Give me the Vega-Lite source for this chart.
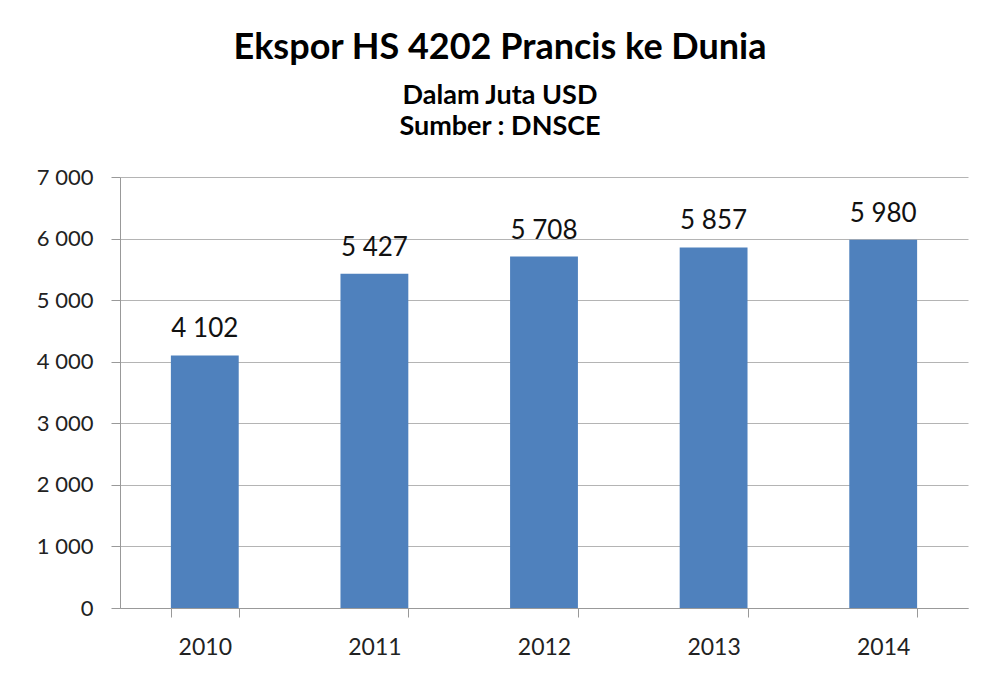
{
  "$schema": "https://vega.github.io/schema/vega-lite/v6.json",
  "width": 848,
  "height": 431,
  "autosize": "none",
  "padding": {"left": 120, "top": 177, "right": 13, "bottom": 77},
  "background": "white",
  "title": {
    "text": "Ekspor HS 4202 Prancis ke Dunia",
    "subtitle": ["Dalam Juta USD", "Sumber : DNSCE"],
    "font": "Lato",
    "fontSize": 36,
    "fontWeight": "bold",
    "color": "black",
    "subtitleFont": "Lato",
    "subtitleFontSize": 27,
    "subtitleFontWeight": "bold",
    "subtitleColor": "black",
    "subtitlePadding": 16,
    "subtitleLineHeight": 31,
    "anchor": "middle",
    "dx": -44,
    "offset": 25
  },
  "data": {
    "values": [
      {"year": "2010", "value": 4102},
      {"year": "2011", "value": 5427},
      {"year": "2012", "value": 5708},
      {"year": "2013", "value": 5857},
      {"year": "2014", "value": 5980}
    ]
  },
  "encoding": {
    "x": {
      "field": "year",
      "type": "ordinal",
      "scale": {"paddingInner": 0.6, "paddingOuter": 0.3},
      "axis": {
        "title": null,
        "labelAngle": 0,
        "labelFont": "Lato",
        "labelFontSize": 23,
        "labelColor": "#222",
        "labelPadding": 19,
        "domainColor": "#999",
        "tickColor": "#999",
        "tickSize": 9,
        "tickBand": "extent",
        "grid": false
      }
    },
    "y": {
      "field": "value",
      "type": "quantitative",
      "scale": {"domain": [0, 7000], "nice": false},
      "axis": {
        "title": null,
        "values": [0, 1000, 2000, 3000, 4000, 5000, 6000, 7000],
        "labelExpr": "replace(format(datum.value, ','), ',', ' ')",
        "labelFont": "Lato",
        "labelFontSize": 22,
        "labelColor": "#222",
        "labelPadding": 18,
        "domainColor": "#999",
        "tickColor": "#999",
        "tickSize": 9,
        "gridColor": "#b4b4b4",
        "gridWidth": 1
      }
    }
  },
  "layer": [
    {"mark": {"type": "bar", "color": "#4f81bd"}},
    {
      "transform": [
        {"calculate": "replace(format(datum.value, ','), ',', ' ')", "as": "label"}
      ],
      "mark": {"type": "text", "baseline": "alphabetic", "dy": -18, "font": "Lato", "fontSize": 26, "color": "#111"},
      "encoding": {
        "text": {"field": "label", "type": "nominal"}
      }
    }
  ],
  "config": {"view": {"stroke": null}}
}
